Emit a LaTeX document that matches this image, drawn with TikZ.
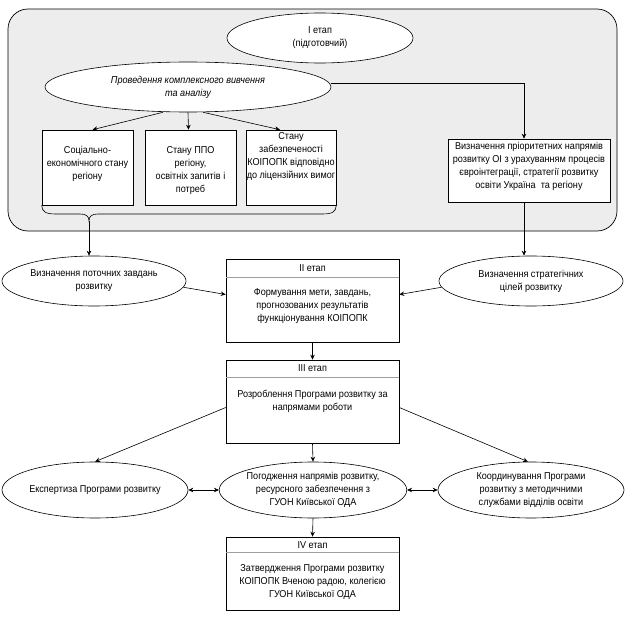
\documentclass[tikz,border=0pt]{standalone}
\usepackage{fontspec}
\setmainfont{Liberation Sans}[FakeStretch=0.91]
\usetikzlibrary{shapes.geometric,arrows.meta,calc}
\newcommand\lab{\fontsize{10}{13}\selectfont}
\tikzset{
  ell/.style={draw, ellipse, fill=white, inner sep=0pt, align=center, font=\lab, line width=0.6pt},
  boxn/.style={draw, rectangle, fill=white, inner sep=0pt, line width=0.6pt},
  txt/.style={inner sep=0pt, align=center, font=\lab},
  arr/.style={-{Stealth[length=5pt,width=4.5pt]}, line width=0.6pt},
  darr/.style={{Stealth[length=5pt,width=4.5pt]}-{Stealth[length=5pt,width=4.5pt]}, line width=0.6pt},
  hdr/.style={draw=gray!75, line width=1.3pt},
}
\begin{document}
\begin{tikzpicture}[x=1pt,y=-1pt]
\useasboundingbox (0,0) rectangle (625,621);
% stage I frame
\draw[fill=black!7, line width=0.7pt, rounded corners=20pt] (8,9) rectangle (617,231);
\node[ell, minimum width=186pt, minimum height=50pt] (e1) at (320,38) {І етап\\(підготовчий)};
\node[ell, minimum width=286pt, minimum height=50pt, font=\lab\itshape] (e2) at (188,87) {Проведення комплексного вивчення\\та аналізу};
% three boxes
\node[boxn, minimum width=91pt, minimum height=75pt] (b1) at (87.5,167.5) {};
\node[boxn, minimum width=91pt, minimum height=75pt] (b2) at (190.5,167.5) {};
\node[boxn, minimum width=90pt, minimum height=75pt] (b3) at (291,167.5) {};
\node[txt] (b1t) at (87.5,164) {Соціально-\\економічного стану\\регіону};
\node[txt] (b2t) at (190.5,171) {Стану ППО\\регіону,\\освітніх запитів і\\потреб};
\node[txt] (b3t) at (291,156.5) {Стану\\забезпеченості\\КОІПОПК відповідно\\до ліцензійних вимог};
% brace
\coordinate (bt) at (89,221);
\draw[line width=0.6pt] (b1.south west) .. controls (42,212) and (46,214) .. (56,214) -- (80,214)
  .. controls (86,214) and (89,216) .. (bt) .. controls (89,216) and (92,214) .. (98,214)
  -- (322,214) .. controls (332,214) and (336,212) .. (b3.south east);
% right box
\node[boxn, minimum width=162pt, minimum height=63pt] (rb) at (529,170.5) {};
\node[txt] (rbt) at (529,166) {Визначення пріоритетних напрямів\\розвитку ОІ з урахуванням процесів\\євроінтеграції, стратегії розвитку\\освіти Україна \ та регіону};
\coordinate (rbn) at ($(rb.north)+(-5,0)$);
\coordinate (rbs) at ($(rb.south)+(-5,0)$);
% arrows stage I
\draw[arr] (e2.east |- 0,83) -| (rbn);
\draw[arr] ($(e2.south)+(-25,0)$) -- ($(b1.north)+(5,0)$);
\draw[arr] (e2.south) -- ($(b2.north)+(-2,0)$);
\draw[arr] ($(e2.south)+(15,0)$) -- ($(b3.north)+(-11,0)$);
% ellipses of goals
\node[ell, minimum width=184pt, minimum height=50pt] (le) at (94,281) {Визначення поточних завдань\\розвитку};
\node[ell, minimum width=184pt, minimum height=50pt] (re) at (531,281) {Визначення стратегічних\\цілей розвитку};
\draw[arr] (bt) -- (bt |- le.north);
\draw[arr] (rbs) -- (rbs |- re.north);
% stage II
\node[boxn, minimum width=173pt, minimum height=83pt] (b4) at (312.5,300.5) {};
\draw[hdr] ($(b4.north west)+(0.5,19)$) -- ($(b4.north east)+(-0.5,19)$);
\node[txt] (b4h) at (312.5,268) {ІІ етап};
\node[txt] (b4t) at (312.5,306) {Формування мети, завдань,\\прогнозованих результатів\\функціонування КОІПОПК};
\draw[arr] (le.-4) -- ($(b4.west)+(0,-6)$);
\draw[arr] (re.184) -- ($(b4.east)+(0,-6)$);
% stage III
\node[boxn, minimum width=173pt, minimum height=83pt] (b5) at (312.5,401.5) {};
\draw[hdr] ($(b5.north west)+(0.5,18)$) -- ($(b5.north east)+(-0.5,18)$);
\node[txt] (b5h) at (312.5,368) {ІІІ етап};
\node[txt] (b5t) at (312.5,401) {Розроблення Програми розвитку за\\напрямами роботи};
\draw[arr] (b4.south) -- (b5.north);
% bottom ellipses
\node[ell, minimum width=186pt, minimum height=56pt] (ee) at (95,490) {Експертиза Програми розвитку};
\node[ell, minimum width=186pt, minimum height=56pt] (me) at (313,490) {Погодження напрямів розвитку,\\ресурсного забезпечення з\\ГУОН Київської ОДА};
\node[ell, minimum width=186pt, minimum height=56pt] (ce) at (531,490) {Координування Програми\\розвитку з методичними\\службами відділів освіти};
\draw[arr] (b5.south) -- (me.north);
\draw[arr] ($(b5.west)+(0,6)$) -- (ee.north);
\draw[arr] ($(b5.east)+(0,6)$) -- ($(ce.north)+(-3,0)$);
\draw[darr] (ee.east) -- (me.west);
\draw[darr] (me.east) -- (ce.west);
% stage IV
\node[boxn, minimum width=173pt, minimum height=73pt] (b6) at (312.5,573.5) {};
\draw[hdr] ($(b6.north west)+(0.5,16)$) -- ($(b6.north east)+(-0.5,16)$);
\node[txt] (b6h) at (312.5,545) {ІV етап};
\node[txt] (b6t) at (312.5,582) {Затвердження Програми розвитку\\КОІПОПК Вченою радою, колегією\\ГУОН Київської ОДА};
\draw[arr] (me.south) -- (b6.north);
\end{tikzpicture}
\end{document}
